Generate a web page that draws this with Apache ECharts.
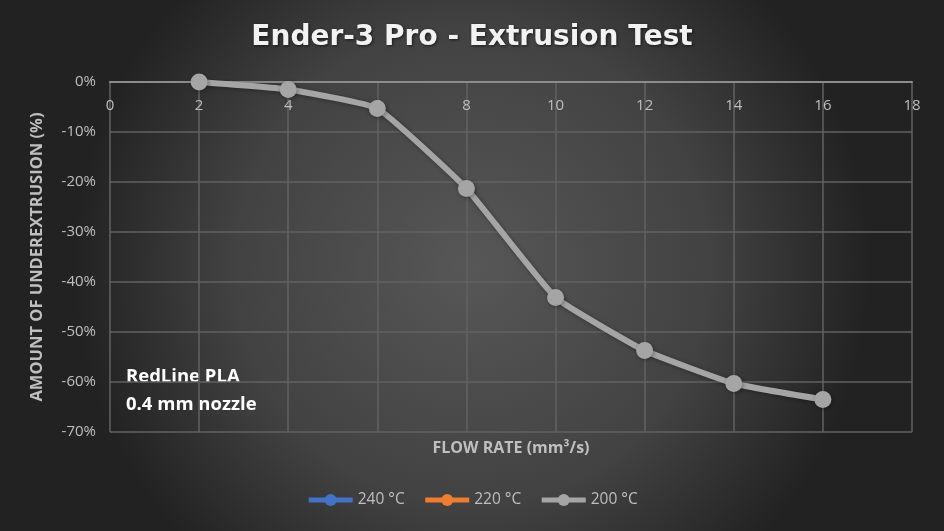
<!DOCTYPE html>
<html>
<head>
<meta charset="utf-8">
<script src="https://cdn.jsdelivr.net/npm/echarts@6/dist/echarts.min.js"></script>
<style>
html,body{margin:0;padding:0;background:#333;}
#c{width:944px;height:531px;}
</style>
</head>
<body>
<div id="c"></div>
<script>
// Data
const seriesNames = ['240 °C', '220 °C', '200 °C'];
const flow240 = [];
const under240 = [];
const flow220 = [];
const under220 = [];
const flow200 = [2, 4, 6, 8, 10, 12, 14, 16];
const under200 = [0, -1.5, -5.3, -21.3, -43.1, -53.7, -60.3, -63.5];
const colors = ['#4472C4', '#ED7D31', '#A5A5A5'];

const pairs = (xs, ys) => xs.map((x, i) => [x, ys[i]]);

const chart = echarts.init(document.getElementById('c'));
const font = '"Open Sans", "Noto Sans", sans-serif';
const mkSeries = (name, data, color) => ({
  name, type: 'line', data, smooth: 0.12,
  symbol: 'circle', symbolSize: 17,
  lineStyle: { width: 6, color, shadowColor: 'rgba(0,0,0,0.35)', shadowBlur: 4, shadowOffsetX: 1, shadowOffsetY: 1 },
  itemStyle: { color, shadowColor: 'rgba(0,0,0,0.35)', shadowBlur: 4, shadowOffsetX: 1, shadowOffsetY: 1 },
  emphasis: { disabled: true }
});

chart.setOption({
  animation: false,
  backgroundColor: {
    type: 'radial', x: 0.5, y: 0.5, r: 0.75,
    colorStops: [
      { offset: 0, color: '#575757' },
      { offset: 0.6, color: '#424242' },
      { offset: 1, color: '#222222' }
    ]
  },
  title: {
    text: 'Ender-3 Pro - Extrusion Test',
    left: 'center', top: 19,
    textStyle: {
      color: '#f2f2f2', fontFamily: '"DejaVu Sans", sans-serif', fontWeight: 'bold', fontSize: 28,
      textShadowColor: 'rgba(0,0,0,0.6)', textShadowBlur: 3, textShadowOffsetX: 1, textShadowOffsetY: 1
    }
  },
  grid: { left: 110, right: 32, top: 82, bottom: 99, containLabel: false },
  legend: {
    bottom: 18, left: 'center',
    itemWidth: 44, itemHeight: 15, itemGap: 18,
    lineStyle: { width: 5 },
    textStyle: { color: '#bfbfbf', fontFamily: font, fontSize: 15.5 },
    data: seriesNames
  },
  xAxis: {
    type: 'value', min: 0, max: 18, interval: 2, position: 'top',
    name: 'FLOW RATE (mm³/s)', nameLocation: 'middle', nameGap: -374,
    nameTextStyle: { color: '#bfbfbf', fontFamily: font, fontWeight: 'bold', fontSize: 16 },
    axisLine: { show: true, onZero: false, lineStyle: { color: '#8c8c8c', width: 2 } },
    axisTick: { show: false },
    axisLabel: { inside: true, margin: 16, color: '#bfbfbf', fontFamily: font, fontSize: 15 },
    splitLine: { show: true, lineStyle: { color: '#626262', width: 1.5 } }
  },
  yAxis: {
    type: 'value', min: -70, max: 0, interval: 10,
    name: 'AMOUNT OF UNDEREXTRUSION (%)', nameLocation: 'middle', nameGap: 64, nameRotate: 90,
    nameTextStyle: { color: '#bfbfbf', fontFamily: font, fontWeight: 'bold', fontSize: 16.5 },
    axisLine: { show: false },
    axisTick: { show: false },
    axisLabel: { color: '#bfbfbf', fontFamily: font, fontSize: 15, margin: 14, formatter: v => v + '%' },
    splitLine: { show: true, lineStyle: { color: '#626262', width: 1.5 } }
  },
  graphic: [
    {
      type: 'text', left: 126, top: 363,
      style: {
        text: 'RedLine PLA\n0.4 mm nozzle', fill: '#ffffff',
        font: 'bold 18.5px "Open Sans", sans-serif', lineHeight: 28
      }
    }
  ],
  series: [
    mkSeries(seriesNames[0], pairs(flow240, under240), colors[0]),
    mkSeries(seriesNames[1], pairs(flow220, under220), colors[1]),
    mkSeries(seriesNames[2], pairs(flow200, under200), colors[2])
  ]
});
</script>
</body>
</html>
